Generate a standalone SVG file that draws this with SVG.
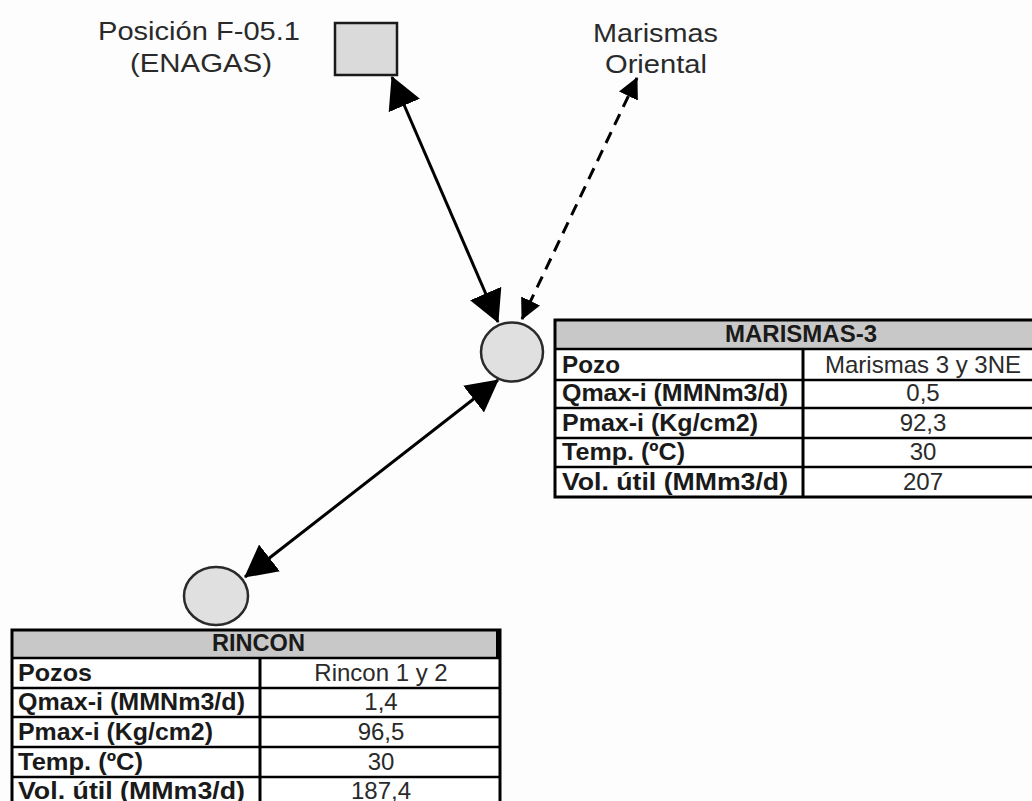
<svg xmlns="http://www.w3.org/2000/svg" width="1032" height="801" viewBox="0 0 1032 801">
  <defs>
    <marker id="ahBig" markerUnits="userSpaceOnUse" markerWidth="32" markerHeight="34" refX="31" refY="17" orient="auto-start-reverse" viewBox="0 0 32 34">
      <path d="M0,0 L32,17 L0,34 z" fill="#000"/>
    </marker>
    <marker id="ahSmall" markerUnits="userSpaceOnUse" markerWidth="21" markerHeight="21" refX="20" refY="10.5" orient="auto-start-reverse" viewBox="0 0 21 21">
      <path d="M0,0 L21,10.5 L0,21 z" fill="#000"/>
    </marker>
  </defs>
  <style>
    .lbl { font-family: "Liberation Sans", Arial, sans-serif; font-size: 26px; fill: #2a2a2a; }
    .hdr { font-family: "Liberation Sans", Arial, sans-serif; font-size: 23px; font-weight: bold; fill: #1a1a1a; }
    .key { font-family: "Liberation Sans", Arial, sans-serif; font-size: 24px; font-weight: bold; fill: #1a1a1a; }
    .val { font-family: "Liberation Sans", Arial, sans-serif; font-size: 24px; fill: #2a2a2a; text-anchor: middle; }
    .node { fill: #e0e0e0; stroke: #2a2a2a; stroke-width: 2.5; }
    .hfill { fill: #c8c8c8; }
    .outer { fill: none; stroke: #000; stroke-width: 3; }
    .row { stroke: #000; stroke-width: 2.5; }
    .col { stroke: #000; stroke-width: 3; }
    .conn { stroke: #000; stroke-width: 3; fill: none; }
    .dash { stroke-dasharray: 12 8; }
  </style>
  <rect x="0" y="0" width="1032" height="801" fill="#fdfdfd"/>

  <g id="enagas">
    <rect x="335" y="23" width="62" height="52" fill="#dadada" stroke="#1a1a1a" stroke-width="2.5"/>
    <text class="lbl" x="98" y="40" textLength="202" lengthAdjust="spacingAndGlyphs">Posición F-05.1</text>
    <text class="lbl" x="130" y="72" textLength="142" lengthAdjust="spacingAndGlyphs">(ENAGAS)</text>
  </g>

  <g id="marismas-oriental">
    <text class="lbl" x="593" y="42" textLength="125" lengthAdjust="spacingAndGlyphs">Marismas</text>
    <text class="lbl" x="605" y="73" textLength="102" lengthAdjust="spacingAndGlyphs">Oriental</text>
  </g>

  <g id="marismas3">
    <ellipse class="node" cx="512" cy="352" rx="31" ry="29.5"/>
    <rect class="hfill" x="555" y="320" width="490" height="29"/>
    <rect x="555" y="349" width="490" height="148" fill="#fff"/>
    <line class="row" x1="555" y1="349" x2="1045" y2="349"/>
    <line class="row" x1="555" y1="380" x2="1045" y2="380"/>
    <line class="row" x1="555" y1="408" x2="1045" y2="408"/>
    <line class="row" x1="555" y1="438" x2="1045" y2="438"/>
    <line class="row" x1="555" y1="467" x2="1045" y2="467"/>
    <line class="col" x1="803" y1="349" x2="803" y2="497"/>
    <rect class="outer" x="555" y="320" width="490" height="177"/>
    <text class="hdr" x="725" y="342" textLength="152" lengthAdjust="spacingAndGlyphs">MARISMAS-3</text>
    <text class="key" x="562" y="373" textLength="58" lengthAdjust="spacingAndGlyphs">Pozo</text>
    <text class="key" x="562" y="401" textLength="226" lengthAdjust="spacingAndGlyphs">Qmax-i (MMNm3/d)</text>
    <text class="key" x="562" y="431" textLength="196" lengthAdjust="spacingAndGlyphs">Pmax-i (Kg/cm2)</text>
    <text class="key" x="562" y="460" textLength="123" lengthAdjust="spacingAndGlyphs">Temp. (ºC)</text>
    <text class="key" x="562" y="490" textLength="226" lengthAdjust="spacingAndGlyphs">Vol. útil (MMm3/d)</text>
    <text class="val" x="923" y="373">Marismas 3 y 3NE</text>
    <text class="val" x="923" y="401">0,5</text>
    <text class="val" x="923" y="431">92,3</text>
    <text class="val" x="923" y="460">30</text>
    <text class="val" x="923" y="490">207</text>
  </g>

  <g id="rincon">
    <ellipse class="node" cx="216" cy="596" rx="32" ry="29"/>
    <rect class="hfill" x="12" y="630" width="488" height="28"/>
    <rect x="12" y="658" width="488" height="150" fill="#fff"/>
    <line class="row" x1="12" y1="658" x2="500" y2="658"/>
    <line class="row" x1="12" y1="688" x2="500" y2="688"/>
    <line class="row" x1="12" y1="717" x2="500" y2="717"/>
    <line class="row" x1="12" y1="747" x2="500" y2="747"/>
    <line class="row" x1="12" y1="777" x2="500" y2="777"/>
    <line class="col" x1="260" y1="658" x2="260" y2="808"/>
    <rect class="outer" x="12" y="630" width="488" height="180"/>
    <line x1="498" y1="630" x2="498" y2="658" stroke="#000" stroke-width="4"/>
    <text class="hdr" x="212" y="651" textLength="93" lengthAdjust="spacingAndGlyphs">RINCON</text>
    <text class="key" x="18" y="681" textLength="74" lengthAdjust="spacingAndGlyphs">Pozos</text>
    <text class="key" x="18" y="710" textLength="227" lengthAdjust="spacingAndGlyphs">Qmax-i (MMNm3/d)</text>
    <text class="key" x="18" y="740" textLength="195" lengthAdjust="spacingAndGlyphs">Pmax-i (Kg/cm2)</text>
    <text class="key" x="18" y="770" textLength="125" lengthAdjust="spacingAndGlyphs">Temp. (ºC)</text>
    <text class="key" x="18" y="799" textLength="227" lengthAdjust="spacingAndGlyphs">Vol. útil (MMm3/d)</text>
    <text class="val" x="381" y="681">Rincon 1 y 2</text>
    <text class="val" x="381" y="710">1,4</text>
    <text class="val" x="381" y="740">96,5</text>
    <text class="val" x="381" y="770">30</text>
    <text class="val" x="381" y="799">187,4</text>
  </g>

  <g id="connectors">
    <path class="conn" d="M392,77 L498,322" marker-start="url(#ahBig)" marker-end="url(#ahBig)"/>
    <path class="conn" d="M498,380 L245,577" marker-start="url(#ahBig)" marker-end="url(#ahBig)"/>
    <path class="conn dash" d="M637,78 L522,319" marker-start="url(#ahSmall)" marker-end="url(#ahSmall)"/>
  </g>
</svg>
